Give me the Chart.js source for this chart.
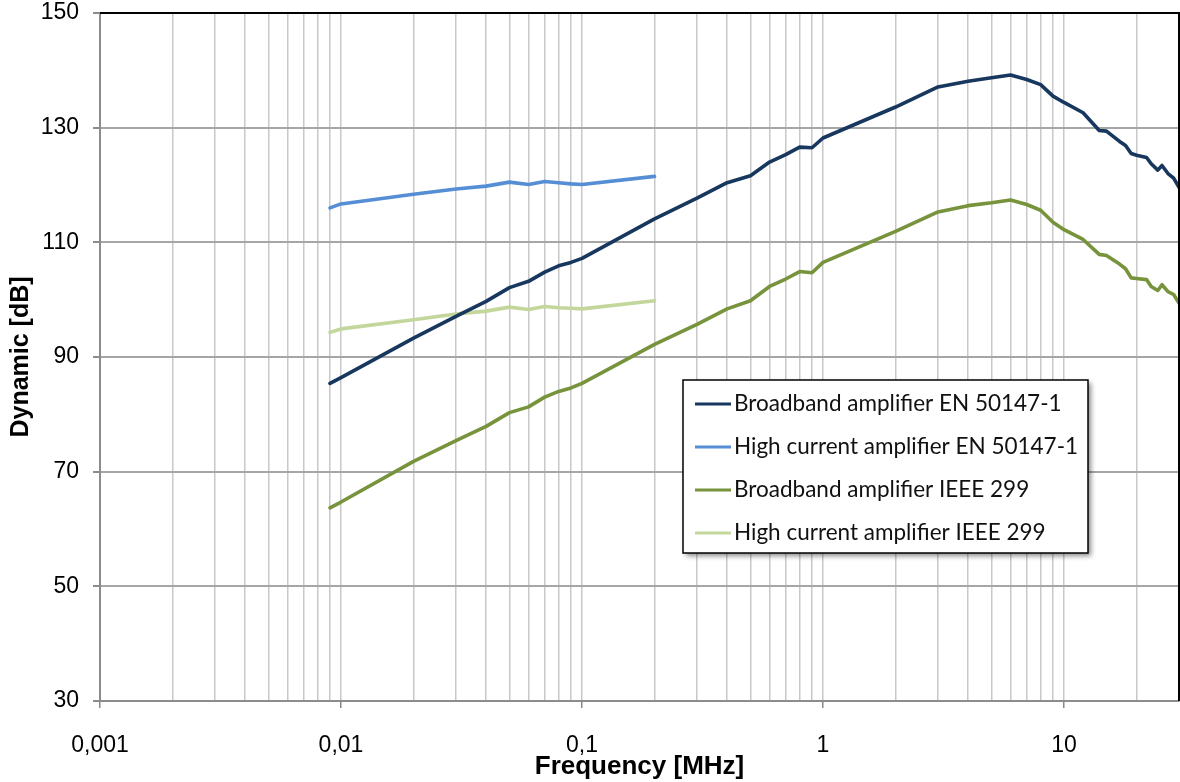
<!DOCTYPE html>
<html>
<head>
<meta charset="utf-8">
<script src="https://cdn.jsdelivr.net/npm/chart.js@4.4.1/dist/chart.umd.min.js"></script>
<style>
  body { margin: 0; background: #fff; }
  #wrap { width: 1180px; height: 782px; }
</style>
</head>
<body>
<div id="wrap"><canvas id="myChart" width="1180" height="782"></canvas></div>
<script>
// frequencies in MHz
const freqBroadband = [0.009, 0.01, 0.02, 0.03, 0.04, 0.05, 0.06, 0.07, 0.08, 0.09, 0.1,
  0.2, 0.3, 0.4, 0.5, 0.6, 0.7, 0.8, 0.9, 1, 2, 3, 4, 5, 6, 7, 8, 9, 10,
  12, 14, 15, 17, 18, 19, 20, 22, 23, 24.5, 25.5, 27, 28.5, 30];
const freqHighCurrent = [0.009, 0.01, 0.02, 0.03, 0.04, 0.05, 0.06, 0.07, 0.08, 0.09, 0.1, 0.2];

// dynamic in dB
const broadbandEN = [85.4, 86.4, 93.3, 97.1, 99.7, 102.1, 103.2, 104.8, 105.9, 106.5, 107.2,
  114.1, 117.7, 120.4, 121.6, 124.0, 125.3, 126.6, 126.5, 128.2, 133.6, 137.1, 138.1, 138.7, 139.2, 138.4, 137.5, 135.5, 134.4,
  132.6, 129.5, 129.4, 127.6, 126.9, 125.5, 125.2, 124.8, 123.7, 122.6, 123.4, 122.0, 121.2, 119.6];
const highCurrentEN = [116.0, 116.7, 118.4, 119.3, 119.8, 120.5, 120.1, 120.6, 120.4, 120.2, 120.1, 121.5];
const broadbandIEEE = [63.7, 64.7, 71.8, 75.4, 77.9, 80.3, 81.3, 83.0, 84.0, 84.6, 85.4,
  92.2, 95.7, 98.4, 99.8, 102.3, 103.6, 104.9, 104.7, 106.5, 111.9, 115.3, 116.4, 116.9, 117.4, 116.6, 115.6, 113.5, 112.2,
  110.5, 107.9, 107.7, 106.2, 105.4, 103.8, 103.7, 103.5, 102.3, 101.6, 102.6, 101.4, 100.9, 99.4];
const highCurrentIEEE = [94.3, 94.9, 96.5, 97.5, 98.0, 98.7, 98.3, 98.8, 98.6, 98.5, 98.4, 99.8];

const seriesLabels = [
  'Broadband amplifier EN 50147-1',
  'High current amplifier EN 50147-1',
  'Broadband amplifier IEEE 299',
  'High current amplifier IEEE 299'
];

const xDecades = [0.001, 0.01, 0.1, 1, 10];
const xTickLabels = ['0,001', '0,01', '0,1', '1', '10'];

function toPoints(xs, ys) {
  return xs.map((x, i) => ({ x: x, y: ys[i] }));
}

// black frame on top and right like the excel plot area
const frame = {
  id: 'frame',
  afterDatasetsDraw(chart) {
    const { ctx, chartArea: a } = chart;
    ctx.save();
    ctx.strokeStyle = '#000';
    ctx.lineWidth = 2;
    ctx.beginPath();
    ctx.moveTo(a.left, a.top);
    ctx.lineTo(a.right, a.top);
    ctx.lineTo(a.right, a.bottom);
    ctx.stroke();
    ctx.restore();
  }
};

// legend box inside the plot
const boxLegend = {
  id: 'boxLegend',
  afterDraw(chart) {
    const ctx = chart.ctx;
    const left = 683, top = 380, w = 405, h = 173;
    ctx.save();
    ctx.shadowColor = 'rgba(0,0,0,0.45)';
    ctx.shadowBlur = 5;
    ctx.shadowOffsetX = 3;
    ctx.shadowOffsetY = 3;
    ctx.fillStyle = '#fff';
    ctx.fillRect(left, top, w, h);
    ctx.shadowColor = 'transparent';
    ctx.strokeStyle = '#000';
    ctx.lineWidth = 1.5;
    ctx.strokeRect(left, top, w, h);
    ctx.font = '22.5px Lato';
    ctx.textBaseline = 'middle';
    ctx.fillStyle = '#111';
    chart.data.datasets.forEach((ds, i) => {
      const y = 404 + i * 43;
      ctx.strokeStyle = ds.borderColor;
      ctx.lineWidth = 3;
      ctx.beginPath();
      ctx.moveTo(695, y);
      ctx.lineTo(731, y);
      ctx.stroke();
      ctx.fillText(ds.label, 734, y);
    });
    ctx.restore();
  }
};

const ctx = document.getElementById('myChart').getContext('2d');
new Chart(ctx, {
  type: 'line',
  data: {
    datasets: [
      { label: seriesLabels[0], data: toPoints(freqBroadband, broadbandEN), borderColor: '#17375E' },
      { label: seriesLabels[1], data: toPoints(freqHighCurrent, highCurrentEN), borderColor: '#558ED5' },
      { label: seriesLabels[2], data: toPoints(freqBroadband, broadbandIEEE), borderColor: '#77933C' },
      { label: seriesLabels[3], data: toPoints(freqHighCurrent, highCurrentIEEE), borderColor: '#C3D69B' }
    ]
  },
  options: {
    responsive: false,
    animation: false,
    devicePixelRatio: 1,
    layout: { padding: { top: 13, right: 1, left: 0, bottom: 0 } },
    elements: {
      point: { radius: 0 },
      line: { borderWidth: 3.6, tension: 0, borderJoinStyle: 'round', borderCapStyle: 'round' }
    },
    plugins: {
      legend: { display: false },
      tooltip: { enabled: false }
    },
    scales: {
      x: {
        type: 'logarithmic',
        min: 0.001,
        max: 30,
        afterBuildTicks(scale) {
          const ticks = [];
          xDecades.forEach(d => {
            for (let k = 1; k <= 9; k++) {
              const v = k === 1 ? d : k * d;
              if (v < 30) ticks.push({ value: v, major: k === 1 });
            }
          });
          scale.ticks = ticks;
        },
        afterFit(scale) {
          scale.height = 81;
          scale.paddingLeft = 0;
          scale.paddingRight = 0;
        },
        ticks: {
          autoSkip: false,
          maxRotation: 0,
          padding: 24,
          color: '#000',
          font: { family: 'Liberation Sans', size: 23 },
          callback(value) {
            const i = xDecades.indexOf(value);
            return i >= 0 ? xTickLabels[i] : '';
          }
        },
        grid: {
          color: '#C8C8C8',
          lineWidth: 1.5,
          tickLength: 7,
          tickColor(c) {
            return c.tick && xDecades.indexOf(c.tick.value) >= 0 ? '#888' : 'rgba(0,0,0,0)';
          }
        },
        border: { display: true, color: '#8C8C8C', width: 2 },
        title: {
          display: true,
          text: 'Frequency [MHz]',
          color: '#000',
          font: { family: 'Liberation Sans', size: 26, weight: 'bold' },
          padding: { top: 0, bottom: 0 }
        }
      },
      y: {
        min: 30,
        max: 150,
        afterFit(scale) {
          scale.width = 100;
          scale.paddingTop = 0;
          scale.paddingBottom = 0;
        },
        ticks: {
          stepSize: 20,
          padding: 14,
          color: '#000',
          font: { family: 'Liberation Sans', size: 23 }
        },
        grid: { color: '#A6A6A6', lineWidth: 2, tickLength: 7, tickColor: '#8C8C8C' },
        border: { display: true, color: '#8C8C8C', width: 2 },
        title: {
          display: true,
          text: 'Dynamic [dB]',
          color: '#000',
          font: { family: 'Liberation Sans', size: 25, weight: 'bold' },
          padding: { top: 6, bottom: 0 }
        }
      }
    }
  },
  plugins: [frame, boxLegend]
});
</script>
</body>
</html>
